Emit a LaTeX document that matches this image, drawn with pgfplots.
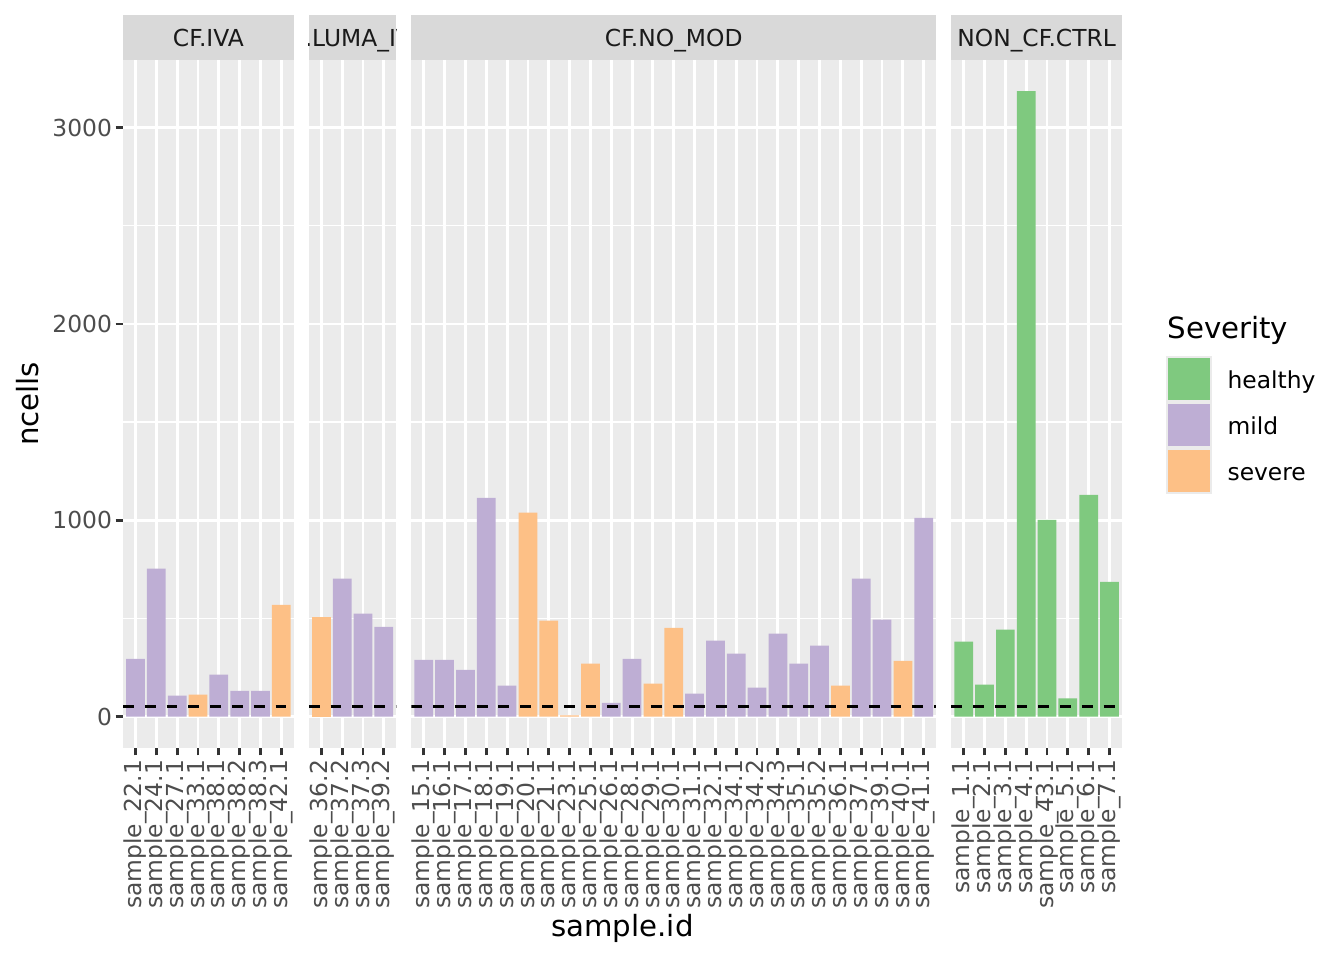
\documentclass[border=0pt]{standalone}
\usepackage{fontspec}
\setmainfont{DejaVu Sans}
\usepackage{pgfplots}
\pgfplotsset{compat=1.18}
\definecolor{bggray}{HTML}{EBEBEB}
\definecolor{stripgray}{HTML}{D9D9D9}
\definecolor{tickgray}{HTML}{4D4D4D}
\definecolor{tickline}{HTML}{333333}
\definecolor{striptext}{HTML}{1A1A1A}
\definecolor{healthy}{HTML}{7FC97F}
\definecolor{mild}{HTML}{BEAED4}
\definecolor{severe}{HTML}{FDC086}
\newcommand\smallfont{\fontsize{8.8}{10.56}\selectfont}
\newcommand\bigfont{\fontsize{11}{13.2}\selectfont}
\pgfplotsset{
  panel/.style={
    scale only axis, height=258.97pt, anchor=south west,
    ymin=-159.25, ymax=3344.25,
    ytick={0,1000,2000,3000},
    minor ytick={500,1500,2500},
    ymajorgrids, yminorgrids, xmajorgrids,
    major grid style={white, line width=1.07pt},
    minor grid style={white, line width=0.53pt},
    axis line style={draw=none},
    axis background/.style={fill=bggray},
    tick align=outside,
    major tick length=2.75pt,
    minor tick length=0pt,
    tick style={tickline, line width=1.07pt},
    xtick pos=lower, ytick pos=left,
    xticklabel style={font=\smallfont, text=tickgray, rotate=90, anchor=east, inner sep=0pt},
    yticklabel style={font=\smallfont, text=tickgray, anchor=east, inner sep=0pt},
    xticklabel shift=1.6pt,
    yticklabel shift=1.2pt,
    /pgf/number format/assume math mode=true,
    /pgf/number format/set thousands separator={},
  },
  noy/.style={yticklabels={}, ytick style={draw=none}},
  bars/.style={ybar, bar width=0.9, bar shift=0pt, draw=none, fill=#1},
  thr/.style={black, line width=1.07pt, dash pattern=on 4.1pt off 4.1pt, forget plot},
}
\begin{document}
\begin{tikzpicture}
\useasboundingbox (0,0) rectangle (505.89pt,361.35pt);
% Panel 1: CF.IVA
\begin{axis}[panel, at={(46.30pt,79.80pt)}, width=64.29pt,
  xmin=0.4, xmax=8.6, xtick={1,...,8},
  xticklabels={sample\_22.1,sample\_24.1,sample\_27.1,sample\_33.1,sample\_38.1,sample\_38.2,sample\_38.3,sample\_42.1}]
\addplot[bars=mild] coordinates {(1,295) (2,754) (3,107) (5,214) (6,132) (7,132)};
\addplot[bars=severe] coordinates {(4,112) (8,570)};
\addplot[thr] coordinates {(0.4,50) (8.6,50)};
\end{axis}
% Panel 2: CF.LUMA_IVA
\begin{axis}[panel, noy, at={(116.24pt,79.80pt)}, width=32.93pt,
  xmin=0.4, xmax=4.6, xtick={1,...,4},
  xticklabels={sample\_36.2,sample\_37.2,sample\_37.3,sample\_39.2}]
\addplot[bars=severe] coordinates {(1,509)};
\addplot[bars=mild] coordinates {(2,703) (3,525) (4,458)};
\addplot[thr] coordinates {(0.4,50) (4.6,50)};
\end{axis}
% Panel 3: CF.NO_MOD
\begin{axis}[panel, noy, at={(154.81pt,79.80pt)}, width=197.58pt,
  xmin=0.4, xmax=25.6, xtick={1,...,25},
  xticklabels={sample\_15.1,sample\_16.1,sample\_17.1,sample\_18.1,sample\_19.1,sample\_20.1,sample\_21.1,sample\_23.1,sample\_25.1,sample\_26.1,sample\_28.1,sample\_29.1,sample\_30.1,sample\_31.1,sample\_32.1,sample\_34.1,sample\_34.2,sample\_34.3,sample\_35.1,sample\_35.2,sample\_36.1,sample\_37.1,sample\_39.1,sample\_40.1,sample\_41.1}]
\addplot[bars=mild] coordinates {(1,290) (2,290) (3,239) (4,1115) (5,158) (10,71) (11,295) (14,117) (15,387) (16,321) (17,148) (18,423) (19,270) (20,362) (22,703) (23,494) (25,1013)};
\addplot[bars=severe] coordinates {(6,1039) (7,489) (8,7) (9,270) (12,168) (13,453) (21,158) (24,285)};
\addplot[thr] coordinates {(0.4,50) (25.6,50)};
\end{axis}
% Panel 4: NON_CF.CTRL
\begin{axis}[panel, noy, at={(358.04pt,79.80pt)}, width=64.29pt,
  xmin=0.4, xmax=8.6, xtick={1,...,8},
  xticklabels={sample\_1.1,sample\_2.1,sample\_3.1,sample\_4.1,sample\_43.1,sample\_5.1,sample\_6.1,sample\_7.1}]
\addplot[bars=healthy] coordinates {(1,382) (2,164) (3,444) (4,3185) (5,1002) (6,93) (7,1130) (8,687)};
\addplot[thr] coordinates {(0.4,50) (8.6,50)};
\end{axis}
% strips
\fill[stripgray] (46.30pt,338.77pt) rectangle ++(64.29pt,16.94pt);
\node[font=\smallfont, text=striptext, anchor=base] at (78.445pt,344.0pt) {CF.IVA};
\begin{scope}
\clip (116.24pt,338.77pt) rectangle ++(32.93pt,16.94pt);
\fill[stripgray] (116.24pt,338.77pt) rectangle ++(32.93pt,16.94pt);
\node[font=\smallfont, text=striptext, anchor=base] at (132.705pt,344.0pt) {CF.LUMA\_IVA};
\end{scope}
\fill[stripgray] (154.81pt,338.77pt) rectangle ++(197.58pt,16.94pt);
\node[font=\smallfont, text=striptext, anchor=base] at (253.60pt,344.0pt) {CF.NO\_MOD};
\fill[stripgray] (358.04pt,338.77pt) rectangle ++(64.29pt,16.94pt);
\node[font=\smallfont, text=striptext, anchor=base] at (390.185pt,344.0pt) {NON\_CF.CTRL};
% axis titles
\node[font=\bigfont, anchor=base] at (234.3pt,8.77pt) {sample.id};
\node[font=\bigfont, rotate=90] at (10.54pt,209.3pt) {ncells};
% legend
\node[font=\bigfont, anchor=base west, inner sep=0pt] at (439.27pt,233.75pt) {Severity};
\fill[bggray] (438.9pt,175.41pt) rectangle (456.2pt,227.35pt);
\fill[healthy] (439.65pt,210.8pt) rectangle (455.46pt,226.6pt);
\fill[mild] (439.65pt,193.5pt) rectangle (455.46pt,209.3pt);
\fill[severe] (439.65pt,176.2pt) rectangle (455.46pt,192.0pt);
\node[font=\smallfont, anchor=base west, inner sep=0pt] at (461.86pt,214.93pt) {healthy};
\node[font=\smallfont, anchor=base west, inner sep=0pt] at (461.86pt,197.62pt) {mild};
\node[font=\smallfont, anchor=base west, inner sep=0pt] at (461.86pt,180.30pt) {severe};
\end{tikzpicture}
\end{document}
